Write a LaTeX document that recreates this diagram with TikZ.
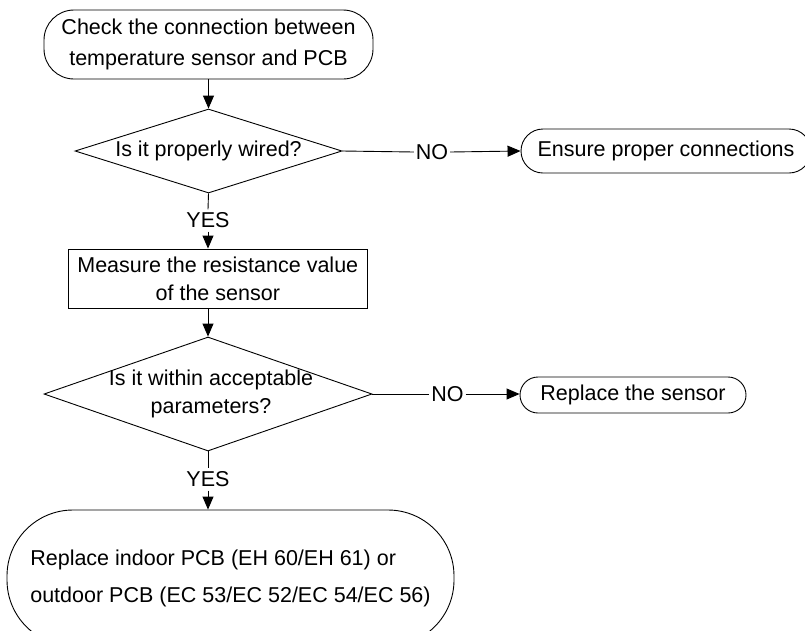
\documentclass[tikz,border=0pt]{standalone}
\usepackage{fontspec}
\setmainfont{Liberation Sans}
\usetikzlibrary{arrows.meta,shapes.geometric}
\begin{document}
\begin{tikzpicture}[x=1pt,y=-1pt,line width=0.9pt,
  every node/.style={font=\fontsize{21.5}{28}\selectfont,text=black},
  term/.style={draw,rounded corners=#1,inner sep=0pt,align=center},
  procbox/.style={draw,inner sep=0pt,align=center},
  dec/.style={draw,diamond,inner sep=0pt},
  lbl/.style={inner sep=1.5pt},
  arr/.style={-{Triangle[length=13pt,width=11pt]}}]
\useasboundingbox (0,0) rectangle (805,630);
\clip (0,0) rectangle (805,630);
% nodes
\node[term=30,minimum width=329,minimum height=69,font=\fontsize{21.5}{31}\selectfont] (start) at (208.5,44.5) {Check the connection between\\temperature sensor and PCB};
\node[dec,minimum width=267,minimum height=84] (d1) at (208.5,151) {};
\node (d1t) at (d1.center) {Is it properly wired?};
\node[lbl] (no1) at (432,152) {NO};
\node[term=22,minimum width=290,minimum height=44] (ensure) at (666,151) {Ensure proper connections};
\node[lbl,inner sep=3pt] (yes1) at (208,220.5) {YES};
\node[procbox,minimum width=299,minimum height=59] (meas) at (217.8,278.5) {Measure the resistance value\\of the sensor};
\node[dec,minimum width=328,minimum height=114] (d2) at (208,394) {};
\node[align=center] (d2t) at (211,394) {Is it within acceptable\\parameters?};
\node[lbl] (no2) at (447.5,394) {NO};
\node[term=18,minimum width=226,minimum height=36] (repl) at (633,395) {Replace the sensor};
\node[lbl,inner sep=3pt] (yes2) at (208,479.5) {YES};
\node[term=66,minimum width=447,minimum height=136,align=left,font=\fontsize{21.5}{37}\selectfont] (pcb) at (230.5,578) {Replace indoor PCB (EH 60/EH 61) or\\outdoor PCB (EC 53/EC 52/EC 54/EC 56)};
% connectors
\draw[arr] (start.south -| d1.north) -- (d1.north);
\draw (d1.south) -- (yes1.north);
\draw[arr] (yes1.south) -- (yes1.south |- meas.north);
\draw (d1.east) -- (no1.west);
\draw[arr] (no1.east) -- (ensure.west);
\draw[arr] (d2.north |- meas.south) -- (d2.north);
\draw (d2.east) -- (no2.west);
\draw[arr] (no2.east) -- (no2.east -| repl.west);
\draw (d2.south) -- (yes2.north);
\draw[arr] (yes2.south) -- (yes2.south |- pcb.north);
\end{tikzpicture}
\end{document}
